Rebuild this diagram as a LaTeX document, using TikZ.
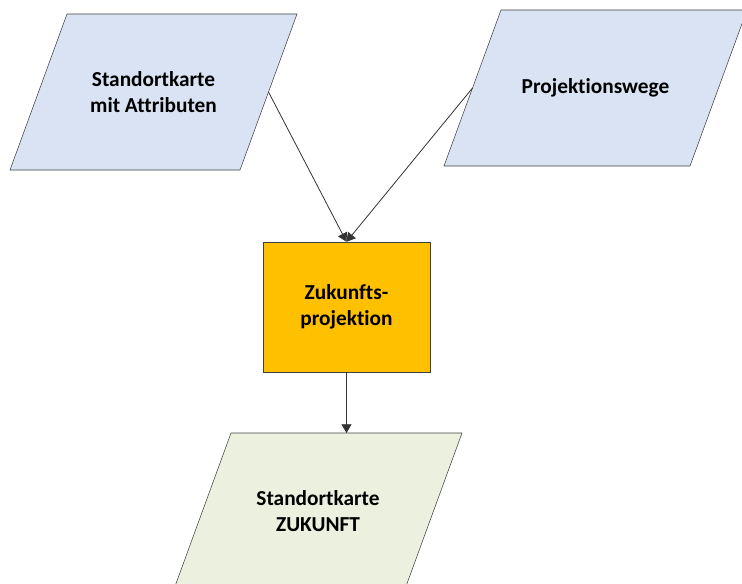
\documentclass[tikz,border=0pt]{standalone}
\usepackage{fontspec}
\setmainfont{Carlito}[Ligatures=NoCommon]
\usepackage{xcolor}
\definecolor{mapBlue}{HTML}{DAE3F3}
\definecolor{futureGreen}{HTML}{EBF1DE}
\definecolor{projOrange}{HTML}{FFC000}
\definecolor{edgeGray}{HTML}{404040}
\usetikzlibrary{arrows.meta, backgrounds}

\begin{document}
\begin{tikzpicture}[
		x=0.75pt, y=-0.75pt,
		para/.style={
			outer sep=0pt,
			minimum height=117pt,
			align=center,
			font=\fontsize{16}{19.5}\selectfont\bfseries
		},
		box/.style={
			draw=edgeGray,
			fill=projOrange,
			minimum width=125.25pt,
			minimum height=97.5pt,
			align=center,
			font=\fontsize{16}{19.5}\selectfont\bfseries
		},
		arrow/.style={-{Triangle[length=6.5pt,width=7.5pt]}, draw=black!80, line width=0.6pt}
		]
		\clip (0,0) rectangle (742,583);
		
		\node[para, minimum width=172.5pt] (karte) at (153.5,92) {Standortkarte\\mit Attributen};
		\node[para, minimum width=184.5pt] (wege) at (595.5,88) {Projektionswege};
		\node[box] (proj) at (346.5,307) {Zukunfts-\\projektion};
		\node[para, minimum width=173.25pt] (zukunft) at (318,511) {Standortkarte\\ZUKUNFT};
		
		% slanted outlines behind the texts
		\begin{scope}[on background layer]
			\foreach \n/\c in {karte/mapBlue, wege/mapBlue, zukunft/futureGreen}
				\draw[draw=edgeGray, fill=\c] ([xshift=21.375pt]\n.north east) -- ([xshift=-21.375pt]\n.south east)
					-- ([xshift=-21.375pt]\n.south west) -- ([xshift=21.375pt]\n.north west) -- cycle;
		\end{scope}
		
		\draw[arrow] (karte.east) -- (proj.north);
		\draw[arrow] (wege.west) -- (proj.north);
		\draw[arrow] (proj.south) -- (proj.south |- zukunft.north);
		
	\end{tikzpicture}
\end{document}
